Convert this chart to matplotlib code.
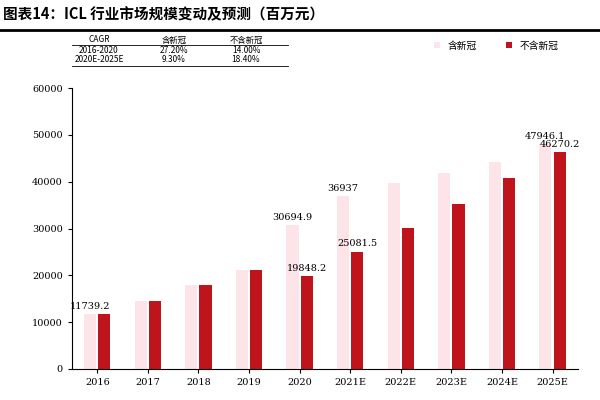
import matplotlib
matplotlib.use("Agg")
import matplotlib.pyplot as plt
import numpy as np

plt.rcParams["font.family"] = ["Noto Sans CJK SC"]

categories = ["2016", "2017", "2018", "2019", "2020", "2021E", "2022E", "2023E", "2024E", "2025E"]
with_covid = [11739.2, 14550, 18000, 21100, 30694.9, 36937, 39700, 41900, 44200, 47946.1]
without_covid = [11739.2, 14550, 18000, 21100, 19848.2, 25081.5, 30150, 35300, 40800, 46270.2]
labels_with = {0: "11739.2", 4: "30694.9", 5: "36937", 9: "47946.1"}
labels_without = {4: "19848.2", 5: "25081.5", 9: "46270.2"}
table_rows = [["CAGR", "含新冠", "不含新冠"], ["2016-2020", "27.20%", "14.00%"], ["2020E-2025E", "9.30%", "18.40%"]]

fig = plt.figure(figsize=(6, 4), dpi=100)
ax = fig.add_axes([0.12, 0.0775, 0.843, 0.7025])
x = np.arange(len(categories))
w = 0.24
g = 0.14
pink = "#fde4e8"
red = "#c0141c"
ax.bar(x - g, with_covid, w, color=pink, label="含新冠")
ax.bar(x + g, without_covid, w, color=red, label="不含新冠")
for i, t in labels_with.items():
    ax.text(x[i] - g, with_covid[i] + 700, t, ha="center", va="bottom", fontsize=7, fontfamily="DejaVu Serif")
for i, t in labels_without.items():
    ax.text(x[i] + g, without_covid[i] + 700, t, ha="center", va="bottom", fontsize=7, fontfamily="DejaVu Serif")
ax.set_xlim(-0.5, len(categories) - 0.5)
ax.set_ylim(0, 60000)
ax.set_yticks(range(0, 60001, 10000))
ax.set_xticks(x)
ax.set_xticklabels(categories, fontfamily="DejaVu Serif")
for lab in ax.get_yticklabels():
    lab.set_fontfamily("DejaVu Serif")
ax.tick_params(labelsize=7, length=3)
for s in ["top", "right"]:
    ax.spines[s].set_visible(False)
ax.legend(loc="upper right", bbox_to_anchor=(0.98, 1.2), ncol=2, frameon=False, fontsize=7,
          handlelength=0.6, handleheight=0.6, columnspacing=3)

fig.text(0.005, 0.965, "图表14：ICL 行业市场规模变动及预测（百万元）", fontsize=10.5, va="center", fontweight="bold")
fig.add_artist(plt.Line2D([0.0, 1.0], [0.925, 0.925], color="black", lw=2))
cols = [0.165, 0.29, 0.41]
ys = [0.9, 0.873, 0.85]
for r, row in enumerate(table_rows):
    for c, t in enumerate(row):
        fig.text(cols[c], ys[r], t, fontsize=6, ha="center", va="center")
fig.add_artist(plt.Line2D([0.12, 0.48], [0.887, 0.887], color="black", lw=0.6))
fig.add_artist(plt.Line2D([0.12, 0.48], [0.835, 0.835], color="black", lw=0.6))
fig.savefig("out.png")
